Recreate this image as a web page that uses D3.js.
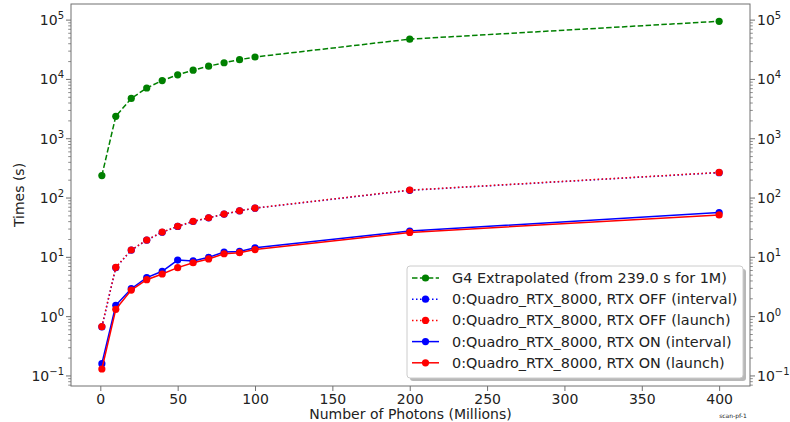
<!DOCTYPE html>
<html>
<head>
<meta charset="UTF-8">
<script src="https://cdn.jsdelivr.net/npm/d3@7"></script>
<style>
body { margin: 0; background: #fff; }
svg text { font-family: "DejaVu Sans", sans-serif; fill: #222; }
</style>
</head>
<body>
<div id="chart"></div>
<script>
// photons in millions
var photons = [1, 10, 20, 30, 40, 50, 60, 70, 80, 90, 100, 200, 400];
var g4Extrapolated = [239, 2390, 4780, 7170, 9560, 11950, 14340, 16730, 19120, 21510, 23900, 47800, 95600];
var offInterval = [0.67, 6.7, 13.2, 19.5, 26.5, 33.2, 40.2, 46.3, 53.4, 60.6, 67.4, 135, 268];
var offLaunch = [0.68, 6.8, 13.3, 19.6, 26.7, 33.4, 40.5, 46.5, 53.7, 61, 67.8, 136, 270];
var onInterval = [0.161, 1.55, 2.96, 4.54, 5.82, 9.0, 8.7, 10.0, 12.3, 12.6, 14.5, 27.8, 57];
var onLaunch = [0.131, 1.33, 2.81, 4.2, 5.24, 6.7, 8.1, 9.4, 11.5, 12.0, 13.5, 26.3, 52];
var xTicks = [0, 50, 100, 150, 200, 250, 300, 350, 400];
var yTicks = [0.1, 1, 10, 100, 1000, 10000, 100000];
var yTickPowers = ["\u22121", "0", "1", "2", "3", "4", "5"];

var series = [
  {label: "G4 Extrapolated (from 239.0 s for 1M)", values: g4Extrapolated, color: "#008000", dash: "5.5,2.4"},
  {label: "0:Quadro_RTX_8000, RTX OFF (interval)", values: offInterval, color: "#0000ff", dash: "1.5,2.5"},
  {label: "0:Quadro_RTX_8000, RTX OFF (launch)", values: offLaunch, color: "#ff0000", dash: "1.5,2.5"},
  {label: "0:Quadro_RTX_8000, RTX ON (interval)", values: onInterval, color: "#0000ff", dash: null},
  {label: "0:Quadro_RTX_8000, RTX ON (launch)", values: onLaunch, color: "#ff0000", dash: null}
];

var W = 790, H = 422;
var plotL = 71, plotR = 750, plotT = 4, plotB = 386;

var svg = d3.select("#chart").append("svg")
  .attr("width", W).attr("height", H);

var x = d3.scaleLinear().domain([-18.95, 419.95]).range([plotL, plotR]);
var y = d3.scaleLog().domain([0.0677, 1.87e5]).range([plotB, plotT]);

// series
var line = d3.line()
  .x(function(d) { return x(d[0]); })
  .y(function(d) { return y(d[1]); });

series.forEach(function(s) {
  var pts = photons.map(function(p, i) { return [p, s.values[i]]; });
  svg.append("path")
    .datum(pts)
    .attr("d", line)
    .attr("fill", "none")
    .attr("stroke", s.color)
    .attr("stroke-width", 1.5)
    .attr("stroke-dasharray", s.dash);
  svg.selectAll(null)
    .data(pts)
    .enter()
    .append("circle")
      .attr("cx", function(d) { return x(d[0]); })
      .attr("cy", function(d) { return y(d[1]); })
      .attr("r", 3.6)
      .attr("fill", s.color);
});

// frame
svg.append("rect")
  .attr("x", plotL).attr("y", plotT)
  .attr("width", plotR - plotL).attr("height", plotB - plotT)
  .attr("fill", "none").attr("stroke", "#707070").attr("stroke-width", 1);

// x axis
var xAxis = svg.append("g")
  .attr("transform", "translate(0," + plotB + ")")
  .call(d3.axisBottom(x).tickValues(xTicks).tickSize(5).tickPadding(3).tickFormat(d3.format("d")));
xAxis.select(".domain").remove();
xAxis.selectAll("line").attr("stroke", "#707070");
xAxis.selectAll("text").attr("font-size", 14).attr("fill", "#222").style("font-family", "DejaVu Sans");

// minor ticks for log axes
var minor = [];
for (var e = -2; e <= 5; e++) {
  for (var m = 2; m <= 9; m++) {
    var v = m * Math.pow(10, e);
    if (v > y.domain()[0] && v < y.domain()[1]) minor.push(v);
  }
}

[{x0: plotL, dir: -1}, {x0: plotR, dir: 1}].forEach(function(side) {
  var g = svg.append("g");
  g.selectAll(".minor").data(minor).enter().append("line")
    .attr("x1", side.x0).attr("x2", side.x0 + side.dir * 2.8)
    .attr("y1", function(d) { return y(d); }).attr("y2", function(d) { return y(d); })
    .attr("stroke", "#707070").attr("stroke-width", 0.8);
  g.selectAll(".major").data(yTicks).enter().append("line")
    .attr("x1", side.x0).attr("x2", side.x0 + side.dir * 5)
    .attr("y1", function(d) { return y(d); }).attr("y2", function(d) { return y(d); })
    .attr("stroke", "#707070").attr("stroke-width", 1);
  var t = g.selectAll(".lab").data(yTicks).enter().append("text")
    .attr("x", side.dir < 0 ? side.x0 - 7 : side.x0 + 7)
    .attr("y", function(d) { return y(d) + 5; })
    .attr("text-anchor", side.dir < 0 ? "end" : "start")
    .attr("font-size", 14);
  t.append("tspan").text("10");
  t.append("tspan")
    .attr("dy", -6)
    .attr("font-size", 10)
    .text(function(d, i) { return yTickPowers[i]; });
});

// axis labels
svg.append("text")
  .attr("x", (plotL + plotR) / 2).attr("y", 419)
  .attr("text-anchor", "middle").attr("font-size", 14)
  .text("Number of Photons (Millions)");
svg.append("text")
  .attr("transform", "translate(24," + (plotT + plotB) / 2 + ") rotate(-90)")
  .attr("text-anchor", "middle").attr("font-size", 14)
  .text("Times (s)");

svg.append("text")
  .attr("x", 733).attr("y", 418)
  .attr("text-anchor", "middle").attr("font-size", 6)
  .text("scan-pf-1");

// legend
var lg = svg.append("g");
var lx = 407, ly = 266, lw = 336, lh = 112;
lg.append("rect")
  .attr("x", lx + 3).attr("y", ly + 3).attr("width", lw).attr("height", lh)
  .attr("rx", 3).attr("fill", "#888").attr("opacity", 0.6);
lg.append("rect")
  .attr("x", lx).attr("y", ly).attr("width", lw).attr("height", lh)
  .attr("rx", 3).attr("fill", "#fff").attr("stroke", "#ccc");
series.forEach(function(s, i) {
  var ry = 278 + i * 21.2;
  lg.append("line")
    .attr("x1", 412).attr("x2", 439).attr("y1", ry).attr("y2", ry)
    .attr("stroke", s.color).attr("stroke-width", 1.5)
    .attr("stroke-dasharray", s.dash);
  lg.append("circle").attr("cx", 425.5).attr("cy", ry).attr("r", 3.6).attr("fill", s.color);
  lg.append("text").attr("x", 452).attr("y", ry + 5)
    .attr("font-size", 14.4).text(s.label);
});
</script>
</body>
</html>
